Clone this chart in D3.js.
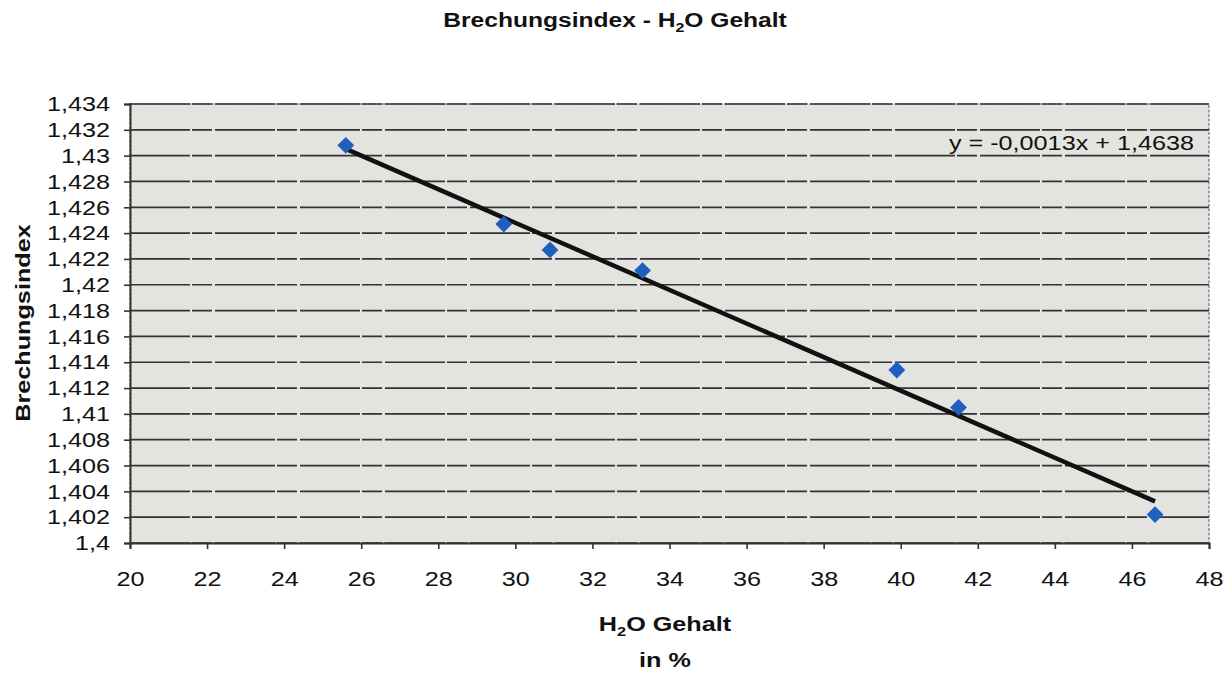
<!DOCTYPE html>
<html><head><meta charset="utf-8">
<script src="https://cdn.jsdelivr.net/npm/d3@7/dist/d3.min.js"></script>
<style>body{margin:0;background:#fff;} text{font-family:"Liberation Sans",Arial,sans-serif;}</style>
</head><body><svg id="c" width="1232" height="675"></svg>
<script>
const waterContent = [25.6, 29.7, 30.9, 33.3, 39.9, 41.5, 46.6];
const refractiveIndex = [1.4308, 1.4247, 1.4227, 1.4211, 1.4134, 1.4105, 1.4022];
const xTicks = [20,22,24,26,28,30,32,34,36,38,40,42,44,46,48];
const yTicks = [1.4,1.402,1.404,1.406,1.408,1.41,1.412,1.414,1.416,1.418,1.42,1.422,1.424,1.426,1.428,1.43,1.432,1.434];
const trendSlope = -0.0013, trendIntercept = 1.4638;
const trendRange = [25.6, 46.6];

const SX = 1.2; // horizontal stretch of the scanned text
const svg = d3.select("#c");
const m = {l:130, r:1209, t:104, b:543};
const x = d3.scaleLinear().domain([20,48]).range([m.l,m.r]);
const y = d3.scaleLinear().domain([1.4,1.434]).range([m.b,m.t]);
const fmt = v => String(+v.toFixed(3)).replace(".", ",");

svg.append("rect").attr("x",m.l).attr("y",m.t).attr("width",m.r-m.l).attr("height",m.b-m.t)
  .attr("fill","#e3e3df").attr("stroke","#8a8a8a").attr("stroke-width",1.5).attr("stroke-dasharray","3,1.5");

// gridlines
svg.append("g").selectAll("line").data(yTicks).join("line")
  .attr("x1",m.l).attr("x2",m.r).attr("y1",d=>y(d)).attr("y2",d=>y(d))
  .attr("stroke","#333").attr("stroke-width",1.7).attr("stroke-dasharray","60,2,20,3");

// axes
const ya = svg.append("g").attr("transform",`translate(${m.l},0)`)
  .call(d3.axisLeft(y).tickValues(yTicks).tickFormat(fmt).tickSize(6).tickPadding(14));
const xa = svg.append("g").attr("transform",`translate(0,${m.b})`)
  .call(d3.axisBottom(x).tickValues(xTicks).tickFormat(d=>d).tickSize(6).tickPadding(22));
[ya,xa].forEach(a=>{
  a.select(".domain").attr("stroke","#333").attr("stroke-width",2);
  a.selectAll(".tick line").attr("stroke","#333").attr("stroke-width",1.6);
  a.selectAll(".tick text").attr("font-size",21).attr("fill","#111")
   .style("font-family","'Liberation Sans',Arial,sans-serif");
});
ya.selectAll(".tick text").attr("x",-20/SX).attr("transform",`scale(${SX},1)`);
xa.selectAll(".tick text").attr("transform",`scale(${SX},1)`);

// trendline
svg.append("line")
  .attr("x1",x(trendRange[0])).attr("y1",y(trendSlope*trendRange[0]+trendIntercept))
  .attr("x2",x(trendRange[1])).attr("y2",y(trendSlope*trendRange[1]+trendIntercept))
  .attr("stroke","#111").attr("stroke-width",4.5);

// points
const pts = waterContent.map((v,i)=>({x:v,y:refractiveIndex[i]}));
svg.append("g").selectAll("path").data(pts).join("path")
  .attr("d", d3.symbol().type(d3.symbolDiamond2).size(180))
  .attr("transform", d=>`translate(${x(d.x)},${y(d.y)})`)
  .attr("fill","#1f5fbf");

// stretched text helper
function stext(cx, cy, anchor, size, weight, parts, rot){
  const g = svg.append("g").attr("transform",`translate(${cx},${cy})${rot?` rotate(${rot})`:""} scale(${SX},1)`);
  const t = g.append("text").attr("text-anchor",anchor).attr("font-size",size)
    .attr("font-weight",weight).attr("fill","#111");
  parts.forEach(p=>{
    const s = t.append("tspan").text(p.t);
    if(p.sub){ s.attr("font-size",size*0.65).attr("dy",size*0.25); }
    if(p.after){ s.attr("dy",-size*0.25); }
  });
  return t;
}

// equation
stext(1194,150,"end",21,"normal",[{t:"y = -0,0013x + 1,4638"}]);

// title
stext(615,27,"middle",20.5,"bold",[{t:"Brechungsindex - H"},{t:"2",sub:true},{t:"O Gehalt",after:true}]);

// x label
stext(665,631,"middle",21,"bold",[{t:"H"},{t:"2",sub:true},{t:"O Gehalt",after:true}]);
stext(665,667,"middle",21,"bold",[{t:"in %"}]);

// y label
stext(30,323,"middle",21,"bold",[{t:"Brechungsindex"}],-90);
</script></body></html>
